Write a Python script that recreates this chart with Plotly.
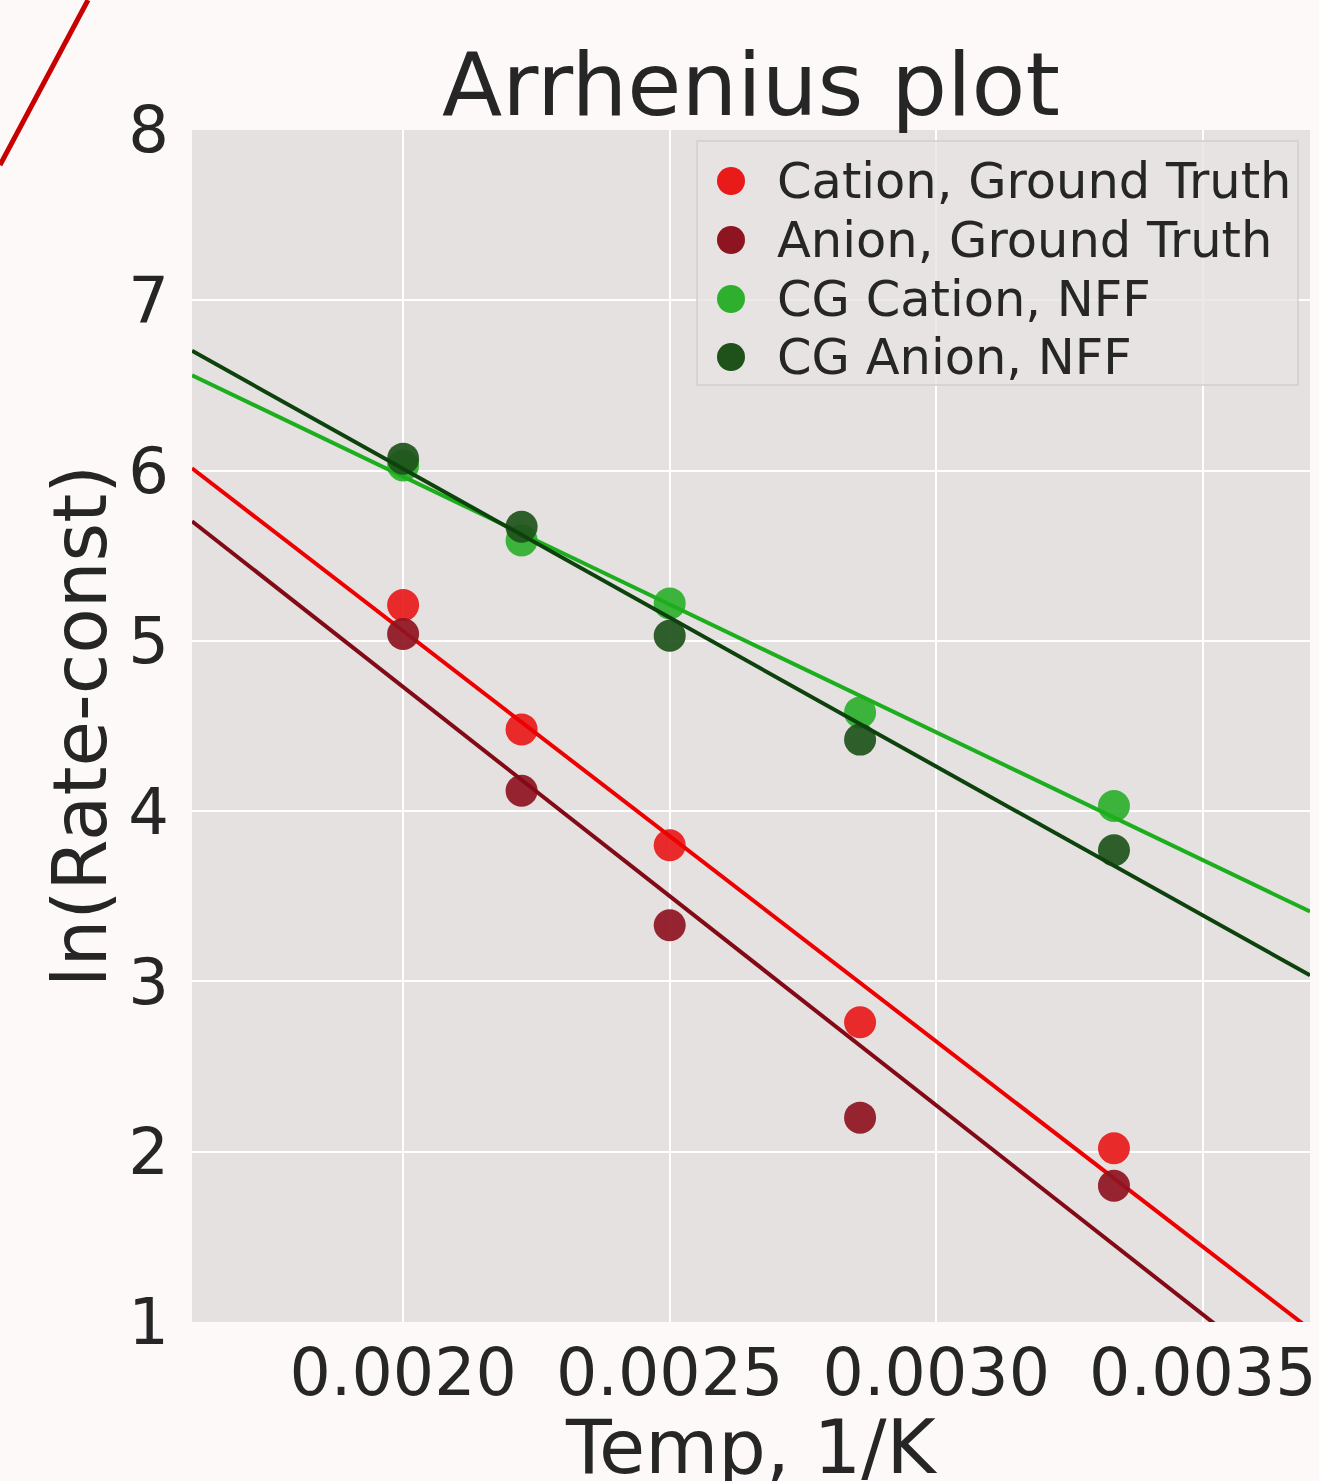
import numpy as np
import plotly.graph_objects as go

# ---- data ----
inv_temp = [0.002, 0.0022222, 0.0025, 0.0028571, 0.0033333]  # 1/K (T = 500, 450, 400, 350, 300 K)
cation_gt = [5.21, 4.48, 3.80, 2.76, 2.02]
anion_gt = [5.04, 4.12, 3.33, 2.20, 1.80]
cg_cation_nff = [6.03, 5.59, 5.22, 4.58, 4.03]
cg_anion_nff = [6.07, 5.67, 5.03, 4.42, 3.77]

series_names = ["Cation, Ground Truth", "Anion, Ground Truth", "CG Cation, NFF", "CG Anion, NFF"]
series_values = [cation_gt, anion_gt, cg_cation_nff, cg_anion_nff]
marker_colors = ["#E81A1A", "#8E1421", "#2EB02E", "#1E521A"]
line_colors = ["#EE0000", "#820A16", "#1DAE1D", "#0D420D"]

x_range = [0.001604, 0.003701]
y_range = [1, 8]
x_ticks = [0.0020, 0.0025, 0.0030, 0.0035]
x_tick_labels = ["0.0020", "0.0025", "0.0030", "0.0035"]
y_ticks = [1, 2, 3, 4, 5, 6, 7, 8]

FONT = "DejaVu Sans"
TXT = "#262626"
W, H = 1319, 1481
L, R, T, B = 192, 9, 130, 159
PW, PH = W - L - R, H - T - B

fig = go.Figure()
xfit = np.array(x_range)
for name, vals, mc, lc in zip(series_names, series_values, marker_colors, line_colors):
    fig.add_trace(go.Scatter(x=inv_temp, y=vals, mode="markers", name=name,
                             marker=dict(size=32, color=mc, opacity=0.92), showlegend=False))
    slope, icpt = np.polyfit(inv_temp, vals, 1)
    fig.add_trace(go.Scatter(x=xfit, y=slope * xfit + icpt, mode="lines",
                             line=dict(color=lc, width=4), showlegend=False, hoverinfo="skip"))

# manual legend (to match large legend markers)
def px_x(p):
    return (p - L) / PW

def px_y(p):
    return (H - B - p) / PH

shapes = [dict(type="rect", xref="paper", yref="paper",
               x0=px_x(697), x1=px_x(1298), y0=px_y(385), y1=px_y(141),
               fillcolor="rgba(232,228,228,0.8)", line=dict(color="#D2CECE", width=1.5), layer="above")]
annotations = []
row_y = [181, 240, 299, 357]
for name, mc, ry in zip(series_names, marker_colors, row_y):
    shapes.append(dict(type="circle", xref="paper", yref="paper",
                       xsizemode="pixel", ysizemode="pixel",
                       xanchor=px_x(731), yanchor=px_y(ry),
                       x0=-14, x1=14, y0=-14, y1=14,
                       fillcolor=mc, line=dict(width=0), layer="above"))
    annotations.append(dict(text=name, xref="paper", yref="paper", x=px_x(775), y=px_y(ry),
                            xanchor="left", yanchor="middle", showarrow=False,
                            font=dict(family=FONT, size=49.5, color=TXT)))

# stray red line at top-left of the image
shapes.append(dict(type="line", xref="paper", yref="paper",
                   x0=px_x(0), y0=px_y(165), x1=px_x(88), y1=px_y(0),
                   line=dict(color="#C80000", width=5), layer="above"))

# axis titles
annotations.append(dict(text="Temp, 1/K", xref="paper", yref="paper", x=0.5, y=px_y(1447),
                        xanchor="center", yanchor="middle", showarrow=False,
                        font=dict(family=FONT, size=75, color=TXT)))
annotations.append(dict(text="ln(Rate-const)", xref="paper", yref="paper", x=px_x(80), y=0.5,
                        xanchor="center", yanchor="middle", showarrow=False, textangle=-90,
                        font=dict(family=FONT, size=74, color=TXT)))

fig.update_layout(
    width=W, height=H,
    margin=dict(l=L, r=R, t=T, b=B, pad=0, autoexpand=False),
    paper_bgcolor="#FDF9F8",
    plot_bgcolor="#E5E1E1",
    title=dict(text="Arrhenius plot", x=0.5, xref="paper", y=1 - 84 / H, yref="container",
               xanchor="center", yanchor="middle",
               font=dict(family=FONT, size=88, color=TXT)),
    font=dict(family=FONT, color=TXT),
    shapes=shapes,
    annotations=annotations,
    showlegend=False,
)
fig.update_xaxes(range=x_range, tickvals=x_ticks, ticktext=x_tick_labels,
                 showgrid=True, gridcolor="#FFFFFF", gridwidth=2, zeroline=False,
                 showline=False, ticks="", ticklabelstandoff=7, automargin=False,
                 tickfont=dict(family=FONT, size=65, color=TXT))
fig.update_yaxes(range=y_range, tickvals=y_ticks,
                 showgrid=True, gridcolor="#FFFFFF", gridwidth=2, zeroline=False,
                 showline=False, ticks="", ticklabelstandoff=22, automargin=False,
                 tickfont=dict(family=FONT, size=64, color=TXT))

fig.write_html("out.html", config={"displayModeBar": False},
               post_script="document.body.style.margin='0';document.body.style.background='#FDF9F8';")
